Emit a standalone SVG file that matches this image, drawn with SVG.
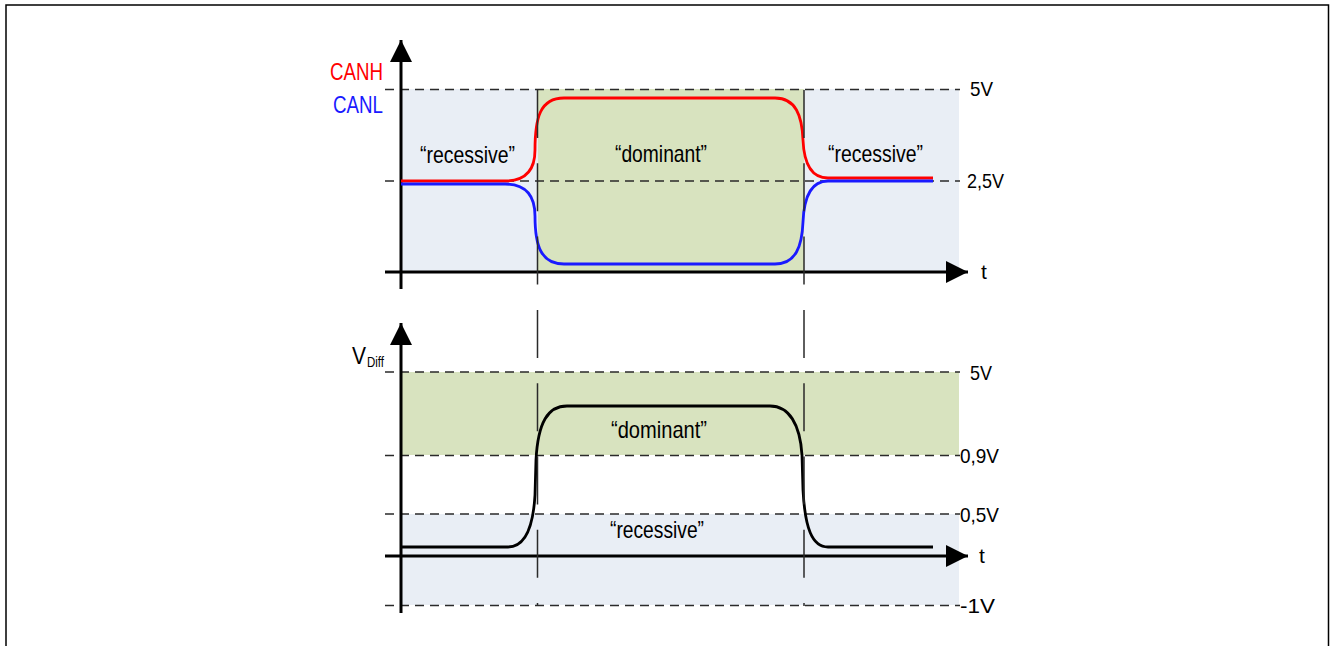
<svg xmlns="http://www.w3.org/2000/svg" width="1330" height="646" viewBox="0 0 1330 646">
<defs>
<style>
text{font-family:"Liberation Sans Narrow","Liberation Sans",Arial,sans-serif;fill:#000}
.lbl{font-size:24px}
.val{font-size:21px}
.dash{stroke:#2a2a2a;stroke-width:1.5;stroke-dasharray:9 6;fill:none}
.mark{stroke:#2a2a2a;stroke-width:1.5;stroke-dasharray:48 25.3;fill:none}
.axis{stroke:#000;stroke-width:3;fill:none}
.curve{stroke-width:2.8;fill:none;stroke-linejoin:round}
.rec{fill:#e9eef5}
.dom{fill:#d8e3bf}
</style>
<marker id="arr" markerUnits="userSpaceOnUse" markerWidth="24" markerHeight="22" refX="22" refY="11" orient="auto">
<path d="M0,0 L22,11 L0,22 Z" fill="#000"/>
</marker>
</defs>
<rect width="1330" height="646" fill="#fff"/>
<path d="M6,646 V5 H1328.5 V646" fill="none" stroke="#000" stroke-width="1.5"/>

<g id="top-chart">
<g id="top-bands">
<rect class="rec" x="401" y="89" width="137" height="182"/>
<rect class="dom" x="538" y="89" width="266" height="182"/>
<rect class="rec" x="804" y="89" width="155" height="182"/>
</g>
<g id="top-grid">
<line class="dash" x1="385" y1="89.5" x2="960" y2="89.5"/>
<line class="dash" x1="385" y1="181" x2="960" y2="181"/>
</g>
<g id="top-axes">
<line class="axis" x1="401" y1="289" x2="401" y2="40" marker-end="url(#arr)"/>
<line class="axis" x1="385" y1="272" x2="968" y2="272" marker-end="url(#arr)"/>
</g>
<g id="canh">
<path class="curve" stroke="#ff0000" d="M401,181 H505 C526,181 535,170 535,150 C535,118 540,98 564,98 H775 C796,98 802,116 803,140 C804,164 811,178 828,178 H933"/>
</g>
<g id="canl">
<path class="curve" stroke="#1a1aff" d="M401,184 H505 C526,184 535,196 535,216 C535,246 541,264 564,264 H775 C796,264 802,246 803,222 C804,196 811,181 828,181 H933"/>
</g>
<g id="top-labels">
<text class="lbl" x="330" y="80" textLength="53" lengthAdjust="spacingAndGlyphs" style="fill:#ff0000">CANH</text>
<text class="lbl" x="333" y="113" textLength="50" lengthAdjust="spacingAndGlyphs" style="fill:#1a1aff">CANL</text>
<text class="lbl" x="420" y="163" textLength="95" lengthAdjust="spacingAndGlyphs">“recessive”</text>
<text class="lbl" x="615" y="162" textLength="92" lengthAdjust="spacingAndGlyphs">“dominant”</text>
<text class="lbl" x="828" y="162" textLength="95" lengthAdjust="spacingAndGlyphs">“recessive”</text>
<text class="val" x="970" y="96" textLength="23" lengthAdjust="spacingAndGlyphs">5V</text>
<text class="val" x="967" y="188" textLength="37" lengthAdjust="spacingAndGlyphs">2,5V</text>
<text class="val" x="981" y="279">t</text>
</g>
</g>

<g id="bottom-chart">
<g id="bottom-bands">
<rect class="dom" x="401" y="372" width="558" height="83"/>
<rect class="rec" x="401" y="514" width="558" height="91"/>
</g>
<g id="bottom-grid">
<line class="dash" x1="385" y1="372" x2="960" y2="372"/>
<line class="dash" x1="385" y1="455.5" x2="960" y2="455.5"/>
<line class="dash" x1="385" y1="514" x2="960" y2="514"/>
<line class="dash" x1="385" y1="605.5" x2="960" y2="605.5"/>
</g>
<g id="bottom-axes">
<line class="axis" x1="401" y1="613" x2="401" y2="323" marker-end="url(#arr)"/>
<line class="axis" x1="385" y1="556" x2="968" y2="556" marker-end="url(#arr)"/>
</g>
<g id="vdiff">
<path class="curve" stroke="#000" d="M401,547 H508 C524,547 533,530 535,495 L536,460 C538,422 548,406 567,406 H770 C789,406 800,424 802,455 L803,490 C805,528 812,547 828,547 H933"/>
</g>
<g id="bottom-labels">
<text class="lbl" x="352" y="364" textLength="14" lengthAdjust="spacingAndGlyphs">V</text>
<text x="367" y="367" style="font-size:15px" textLength="17" lengthAdjust="spacingAndGlyphs">Diff</text>
<text class="lbl" x="611" y="438" textLength="96" lengthAdjust="spacingAndGlyphs">“dominant”</text>
<text class="lbl" x="610" y="538" textLength="94" lengthAdjust="spacingAndGlyphs">“recessive”</text>
<text class="val" x="970" y="380" textLength="22" lengthAdjust="spacingAndGlyphs">5V</text>
<text class="val" x="960" y="463" textLength="39" lengthAdjust="spacingAndGlyphs">0,9V</text>
<text class="val" x="960" y="522" textLength="39" lengthAdjust="spacingAndGlyphs">0,5V</text>
<text class="val" x="979" y="563">t</text>
<text class="val" x="960" y="613" textLength="35" lengthAdjust="spacingAndGlyphs">-1V</text>
</g>
</g>

<g id="connectors">
<line class="mark" x1="537.5" y1="90" x2="537.5" y2="606"/>
<line class="mark" x1="804" y1="90" x2="804" y2="606"/>
</g>
</svg>
